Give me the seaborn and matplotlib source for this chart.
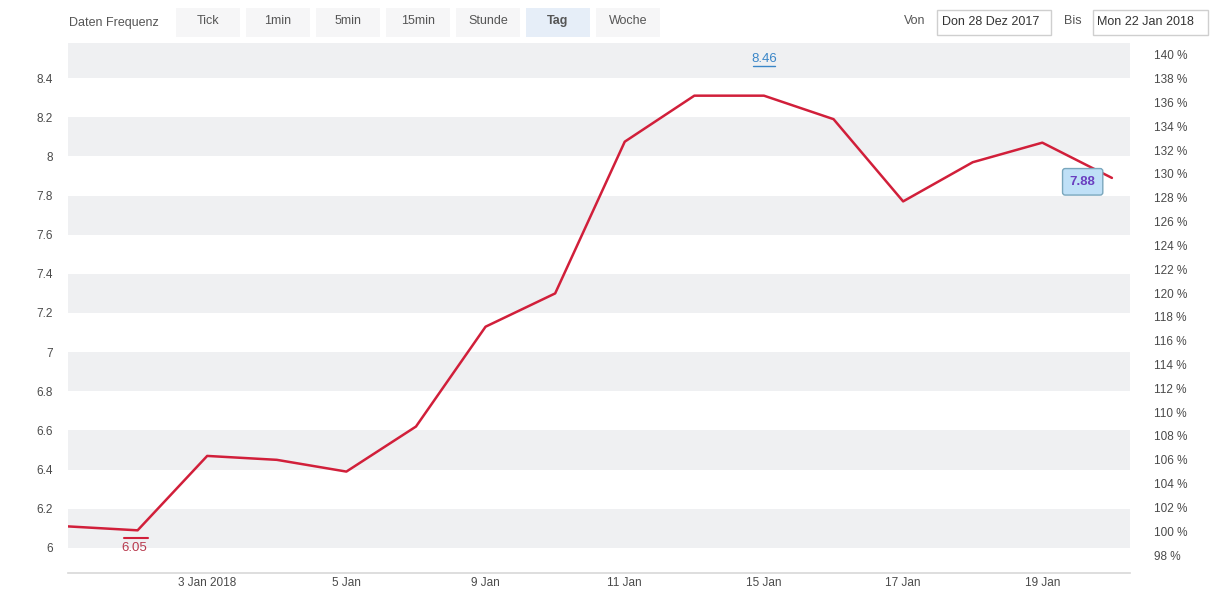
import matplotlib
matplotlib.use("Agg")
import matplotlib.pyplot as plt
from matplotlib.patches import Rectangle
import seaborn as sns
import pandas as pd
import numpy as np

# ---- data ----
dates = ["29 Dec", "2 Jan", "3 Jan", "4 Jan", "5 Jan", "8 Jan", "9 Jan", "10 Jan",
         "11 Jan", "12 Jan", "15 Jan", "16 Jan", "17 Jan", "18 Jan", "19 Jan", "22 Jan"]
prices = [6.11, 6.09, 6.47, 6.45, 6.39, 6.62, 7.13, 7.30,
          8.075, 8.31, 8.31, 8.19, 7.77, 7.97, 8.07, 7.89]
tick_idx = [2, 4, 6, 8, 10, 12, 14]
tick_labels = ["3 Jan 2018", "5 Jan", "9 Jan", "11 Jan", "15 Jan", "17 Jan", "19 Jan"]
left_ticks = [6, 6.2, 6.4, 6.6, 6.8, 7, 7.2, 7.4, 7.6, 7.8, 8, 8.2, 8.4]
left_labels = ["6", "6.2", "6.4", "6.6", "6.8", "7", "7.2", "7.4", "7.6", "7.8", "8", "8.2", "8.4"]
pct_ticks = list(range(98, 141, 2))
base_price = 6.085
low_value, low_label = 6.05, "6.05"
high_value, high_label = 8.46, "8.46"
last_label = "7.88"
freq_buttons = ["Tick", "1min", "5min", "15min", "Stunde", "Tag", "Woche"]
active_button = "Tag"
von_text, bis_text = "Don 28 Dez 2017", "Mon 22 Jan 2018"

df = pd.DataFrame({"idx": np.arange(len(prices)), "price": prices, "date": dates})

sns.set_theme(style="white")
plt.rcParams["font.family"] = ["Liberation Sans", "DejaVu Sans"]

W, H = 1225, 597
fig = plt.figure(figsize=(W / 100, H / 100), dpi=100)
fig.patch.set_facecolor("white")

def fx(px):
    return px / W

def fy(py):
    return 1 - py / H

ax = fig.add_axes([fx(68), fy(573), fx(1130) - fx(68), fy(43) - fy(573)])
ax.set_facecolor("white")
ymin, ymax = 5.872, 8.579
ax.set_ylim(ymin, ymax)
ax.set_xlim(0, 15.26)

# alternating bands
band_edges = left_ticks + [ymax]
for i in range(0, len(band_edges) - 1, 2):
    ax.axhspan(band_edges[i], band_edges[i + 1], color="#eff0f2", lw=0, zorder=0)

sns.lineplot(data=df, x="idx", y="price", ax=ax, color="#d11f3a", lw=1.8, zorder=3)

for s in ["top", "left", "right"]:
    ax.spines[s].set_visible(False)
ax.spines["bottom"].set_color("#d8d8d8")
ax.spines["bottom"].set_linewidth(1.2)

ax.set_xticks(tick_idx)
ax.set_xticklabels(tick_labels)
ax.set_yticks(left_ticks)
ax.set_yticklabels(left_labels)
ax.tick_params(axis="both", length=0, labelsize=8.5, colors="#4a4a4a")
ax.tick_params(axis="x", pad=3)
ax.tick_params(axis="y", pad=11)
ax.set_xlabel("")
ax.set_ylabel("")

# right percent axis
ax2 = ax.twinx()
ax2.set_ylim(ymin / base_price * 100, ymax / base_price * 100)
ax2.set_yticks(pct_ticks)
ax2.set_yticklabels([f"{p} %" for p in pct_ticks])
ax2.tick_params(axis="y", length=0, labelsize=8.5, colors="#4a4a4a", pad=17)
for s in ax2.spines.values():
    s.set_visible(False)
ax2.grid(False)

# low marker
ax.plot([0.8, 1.15], [low_value, low_value], color="#d11f3a", lw=1.5, zorder=4)
ax.text(0.95, low_value - 0.02, low_label, color="#b8394d", fontsize=9.5,
        ha="center", va="top", zorder=4)
# high marker
ax.text(10, high_value + 0.005, high_label, color="#3a86c8", fontsize=9.5,
        ha="center", va="bottom", zorder=4)
ax.plot([9.84, 10.16], [high_value, high_value], color="#3a86c8", lw=1.0, zorder=4)

# last value flag
ax.annotate(last_label, xy=(15, prices[-1]), xytext=(14.58, prices[-1] - 0.02),
            color="#6a3fc0", fontsize=9.5, fontweight="bold", ha="center", va="center",
            bbox=dict(boxstyle="round,pad=0.55,rounding_size=0.2", fc="#bfe0f7",
                      ec="#7aa7bd", lw=1),
            zorder=5)

# ---- top control bar ----
fig.text(fx(69), fy(23), "Daten Frequenz", fontsize=9, color="#555555",
         ha="left", va="center")
bx = 176
for b in freq_buttons:
    fc = "#e6eef8" if b == active_button else "#f6f6f7"
    fig.patches.append(Rectangle((fx(bx), fy(37)), fx(64), fy(8) - fy(37),
                                 transform=fig.transFigure, fc=fc, ec="none"))
    fig.text(fx(bx + 32), fy(21), b, fontsize=9, color="#555555",
             ha="center", va="center",
             fontweight="bold" if b == active_button else "normal")
    bx += 70

fig.text(fx(904), fy(21), "Von", fontsize=9, color="#555555", ha="left", va="center")
fig.patches.append(Rectangle((fx(937), fy(35)), fx(114), fy(10) - fy(35),
                             transform=fig.transFigure, fc="white", ec="#cfcfcf", lw=1))
fig.text(fx(942), fy(22), von_text, fontsize=9, color="#333333", ha="left", va="center")
fig.text(fx(1064), fy(21), "Bis", fontsize=9, color="#555555", ha="left", va="center")
fig.patches.append(Rectangle((fx(1093), fy(35)), fx(115), fy(10) - fy(35),
                             transform=fig.transFigure, fc="white", ec="#cfcfcf", lw=1))
fig.text(fx(1097), fy(22), bis_text, fontsize=9, color="#333333", ha="left", va="center")

fig.savefig("out.png", dpi=100, facecolor="white")
